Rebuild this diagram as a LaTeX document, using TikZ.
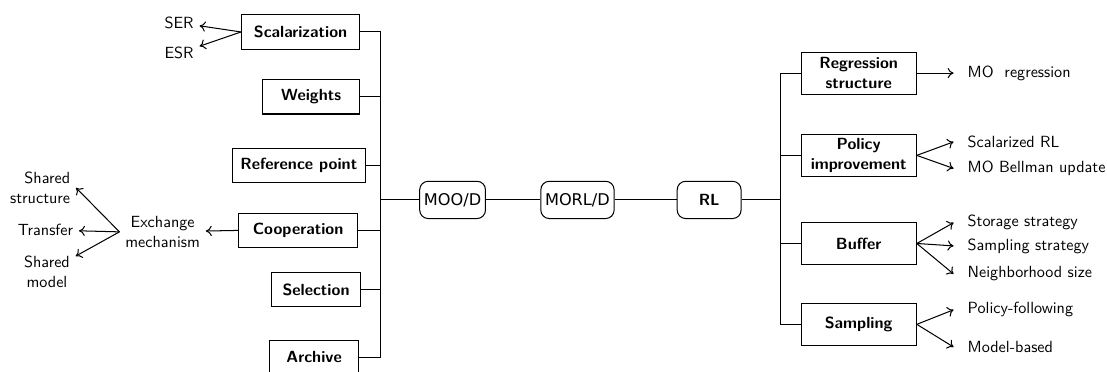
\documentclass[tikz,border=0pt]{standalone}
\usepackage{fontspec}
\renewcommand{\familydefault}{\sfdefault}
\newfontfamily\hubfont{DejaVu Sans}
\usetikzlibrary{positioning,arrows.meta}
\AtBeginDocument{\fontsize{9.5}{11.5}\selectfont}
\tikzset{
  >={To[length=3.5pt,width=6pt]},
  box/.style={draw, semithick, font=\bfseries, inner xsep=3pt, minimum height=0.71cm},
  rbox/.style={draw, semithick, font=\bfseries, align=center, inner ysep=2pt,
    minimum width=2.38cm, minimum height=0.87cm},
  hub/.style={draw, semithick, rounded corners=5pt, inner xsep=2.5pt, minimum height=0.77cm},
  leaf/.style={align=center},
  rleaf/.style={anchor=west, inner xsep=8pt},
}

\begin{document}
\begin{tikzpicture}[semithick]
        \useasboundingbox (0,0) rectangle (22.87,-7.665);
        % middle chain
        \node [hub] (mood) at (9.35,-4.13) {\hubfont MOO/D};
        \node [hub, on grid, right=2.58cm of mood] (morld) {\hubfont MORL/D};
        \node [hub, on grid, right=2.72cm of morld, minimum width=1.32cm, font=\bfseries] (rl) {RL};
        \coordinate (lt) at (7.87,-4.13);
        \coordinate (rt) at (16.12,-4.13);
        % left boxes
        \node [box, anchor=east, minimum width=2.44cm] (scal) at (7.44,-0.66) {Scalarization};
        \node [box, anchor=east, minimum width=2.0cm] (weights) at (7.44,-2.00) {Weights};
        \node [box, anchor=east, minimum width=2.75cm] (refpt) at (7.56,-3.42) {Reference point};
        \node [box, anchor=east, minimum width=2.46cm] (coop) at (7.40,-4.76) {Cooperation};
        \node [box, anchor=east, minimum width=1.84cm] (sel) at (7.46,-5.98) {Selection};
        \node [box, anchor=east, minimum width=1.84cm] (arch) at (7.42,-7.38) {Archive};
        \node [leaf] (ser) at (3.70,-0.47) {SER};
        \node [leaf] (esr) at (3.70,-1.10) {ESR};
        \node [leaf] (exch) at (3.36,-4.79) {Exchange\\mechanism};
        \node [leaf, align=right] (sstruct) at (0.83,-3.88) {Shared\\structure};
        \node [leaf] (transf) at (0.94,-4.75) {Transfer};
        \node [leaf] (smodel) at (0.97,-5.62) {Shared\\model};
        % right boxes
        \node [rbox] (reg) at (17.74,-1.51) {Regression\\structure};
        \node [rbox] (pol) at (17.74,-3.21) {Policy\\improvement};
        \node [rbox] (buf) at (17.74,-5.03) {Buffer};
        \node [rbox] (samp) at (17.74,-6.70) {Sampling};
        \node [rleaf] (moreg) at (19.70,-1.51) {MO~~regression};
        \node [rleaf] (scrl) at (19.70,-2.93) {Scalarized RL};
        \node [rleaf] (bell) at (19.70,-3.48) {MO Bellman update};
        \node [rleaf] (stor) at (19.70,-4.60) {Storage strategy};
        \node [rleaf] (sstrat) at (19.70,-5.08) {Sampling strategy};
        \node [rleaf] (nbh) at (19.70,-5.66) {Neighborhood size};
        \node [rleaf] (polf) at (19.70,-6.40) {Policy-following};
        \node [rleaf] (modb) at (19.70,-7.17) {Model-based};
        % trunks
        \draw (lt) -- (mood) -- (morld) -- (rl) -- (rt);
        \draw (scal.east) -| (lt) |- (arch.east);
        \foreach \n in {weights,refpt,coop,sel}
          \draw (\n.east) -- (\n.east -| lt);
        \draw (reg.west) -| (rt) |- (samp.west);
        \foreach \n in {pol,buf}
          \draw (\n.west) -- (\n.west -| rt);
        % arrows
        \draw [->] (scal.west) -- (ser);
        \draw [->] (scal.west) -- (esr);
        \draw [->] (coop.west) -- (exch);
        \draw [->] (exch.west) -- (sstruct.east);
        \draw [->] (exch.west) -- (transf);
        \draw [->] (exch.west) -- (smodel);
        \draw [->] (reg.east) -- (moreg.west);
        \foreach \t in {scrl,bell}
          \draw [->] (pol.east) -- (\t.west);
        \foreach \t in {stor,sstrat,nbh}
          \draw [->] (buf.east) -- (\t.west);
        \foreach \t in {polf,modb}
          \draw [->] (samp.east) -- (\t.west);
      \end{tikzpicture}
\end{document}
